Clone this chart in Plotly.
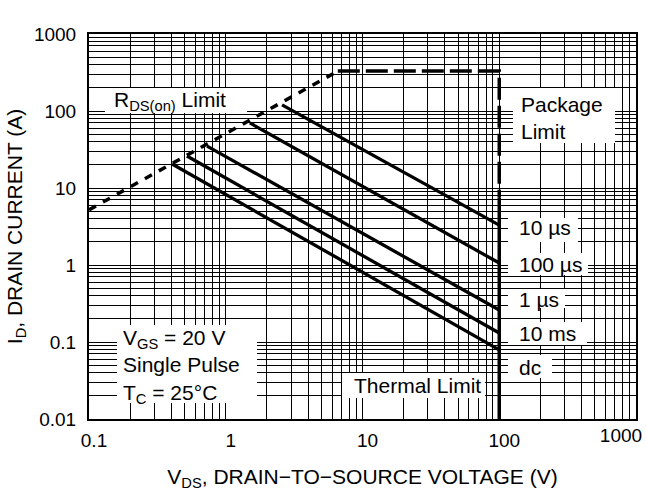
import plotly.graph_objects as go

# ---- data ----
x_ticks = [0.1, 1, 10, 100]
x_tick_text = ["0.1", "1", "10", "100"]
x_end_tick = [1000]
x_end_tick_text = ["1000"]
y_ticks = [0.01, 0.1, 1, 10, 100, 1000]
y_tick_text = ["0.01", "0.1", "1", "10", "100", "1000"]

rds_v = [0.1, 6.6]
rds_i = [5.2, 330]

pkg_v = [6.6, 100, 100]
pkg_i = [330, 330, 7.5]

thermal_v = [100, 100]
thermal_i = [7.5, 0.01]

pulse_labels = ["10 µs", "100 µs", "1 µs", "10 ms", "dc"]
pulse_start_v = [2.58, 1.50, 0.73, 0.52, 0.405]
pulse_start_i = [120, 70, 35, 26, 20.5]
pulse_end_v = [100, 100, 100, 100, 100]
pulse_end_i = [3.3, 1.06, 0.26, 0.131, 0.079]

FONT = "Liberation Sans, Arial, Helvetica, sans-serif"

# plot area in page pixels (for placing text boxes)
PL, PR, PT, PB = 89, 636, 34, 419


def px(xp):
    return (xp - PL) / (PR - PL)


def py(yp):
    return (PB - yp) / (PB - PT)


fig = go.Figure()

fig.add_trace(go.Scatter(x=rds_v, y=rds_i, mode="lines",
                         line=dict(color="black", width=3.5, dash="8px,8px"),
                         showlegend=False, hoverinfo="skip"))
fig.add_trace(go.Scatter(x=pkg_v, y=pkg_i, mode="lines",
                         line=dict(color="black", width=3.5, dash="22px,6px"),
                         showlegend=False, hoverinfo="skip"))
fig.add_trace(go.Scatter(x=thermal_v, y=thermal_i, mode="lines", xaxis="x2",
                         line=dict(color="black", width=3.5),
                         showlegend=False, hoverinfo="skip"))
for lab, v0, i0, v1, i1 in zip(pulse_labels, pulse_start_v, pulse_start_i,
                               pulse_end_v, pulse_end_i):
    fig.add_trace(go.Scatter(x=[v0, v1], y=[i0, i1], mode="lines", name=lab,
                             line=dict(color="black", width=3.3),
                             showlegend=False, hoverinfo="skip"))

ann_font = dict(family=FONT, size=21, color="black")

# (text, text-left px, text-center-y px, box x0, box x1, box y0, box y1)
label_boxes = [
    ("10 µs", 518, 228, 508, 578, 218, 242),
    ("100 µs", 518, 264, 508, 588, 253, 275),
    ("1 µs", 518, 299, 508, 565, 289, 308),
    ("10 ms", 518, 333, 508, 587, 322, 345),
    ("dc", 518, 367, 508, 552, 355, 378),
    ("Package<br>Limit", 520, 118, 513, 615, 88, 143),
    ("Thermal Limit", 353, 385, 342, 485, 373, 398),
    ("R<sub>DS(on)</sub> Limit", 113, 101, 105, 247, 88, 113),
    ("V<sub>GS</sub> = 20 V<br>Single Pulse<br>T<sub>C</sub> = 25°C",
     122, 366, 117, 257, 325, 403),
]

shapes = []
annotations = []
for text, tx, ty, bx0, bx1, by0, by1 in label_boxes:
    shapes.append(dict(type="rect", xref="paper", yref="paper",
                       x0=px(bx0), x1=px(bx1), y0=py(by1), y1=py(by0),
                       fillcolor="white", line=dict(width=0), layer="above"))
    annotations.append(dict(x=px(tx), y=py(ty), xref="paper", yref="paper",
                            text=text, xanchor="left", yanchor="middle",
                            showarrow=False, font=ann_font, align="left",
                            borderpad=0))

axis_common = dict(
    type="log", showgrid=True, gridcolor="black", gridwidth=1,
    showline=True, linecolor="black", linewidth=2, mirror=True,
    ticks="", zeroline=False, automargin=False,
    tickfont=dict(family=FONT, size=19, color="black"),
    minor=dict(dtick="D1", showgrid=True, gridcolor="black", gridwidth=1, ticks=""),
)

fig.update_layout(
    width=646, height=491,
    margin=dict(l=PL, r=646 - PR, t=PT, b=491 - PB),
    paper_bgcolor="white", plot_bgcolor="white",
    font=dict(family=FONT, size=19, color="black"),
    annotations=annotations, shapes=shapes,
    xaxis=dict(axis_common, range=[-1, 3], tickvals=x_ticks, ticktext=x_tick_text,
               ticklabelstandoff=3, ticklabelshift=5,
               title=dict(text="V<sub>DS</sub>, DRAIN−TO−SOURCE VOLTAGE (V)",
                          font=dict(family=FONT, size=21, color="black"), standoff=29)),
    xaxis2=dict(type="log", overlaying="x", anchor="y", side="bottom", range=[-1, 3],
                tickvals=x_end_tick, ticktext=x_end_tick_text,
                showgrid=False, showline=False, zeroline=False, ticks="",
                automargin=False, ticklabelstandoff=3, ticklabelshift=-15,
                tickfont=dict(family=FONT, size=19, color="black")),
    yaxis=dict(axis_common, range=[-2, 3], tickvals=y_ticks, ticktext=y_tick_text,
               ticklabelstandoff=7,
               title=dict(text="I<sub>D</sub>, DRAIN CURRENT (A)",
                          font=dict(family=FONT, size=21, color="black"), standoff=6)),
)

fig.write_html("out.html", config={"displayModeBar": False},
               post_script="document.body.style.margin='0';")
